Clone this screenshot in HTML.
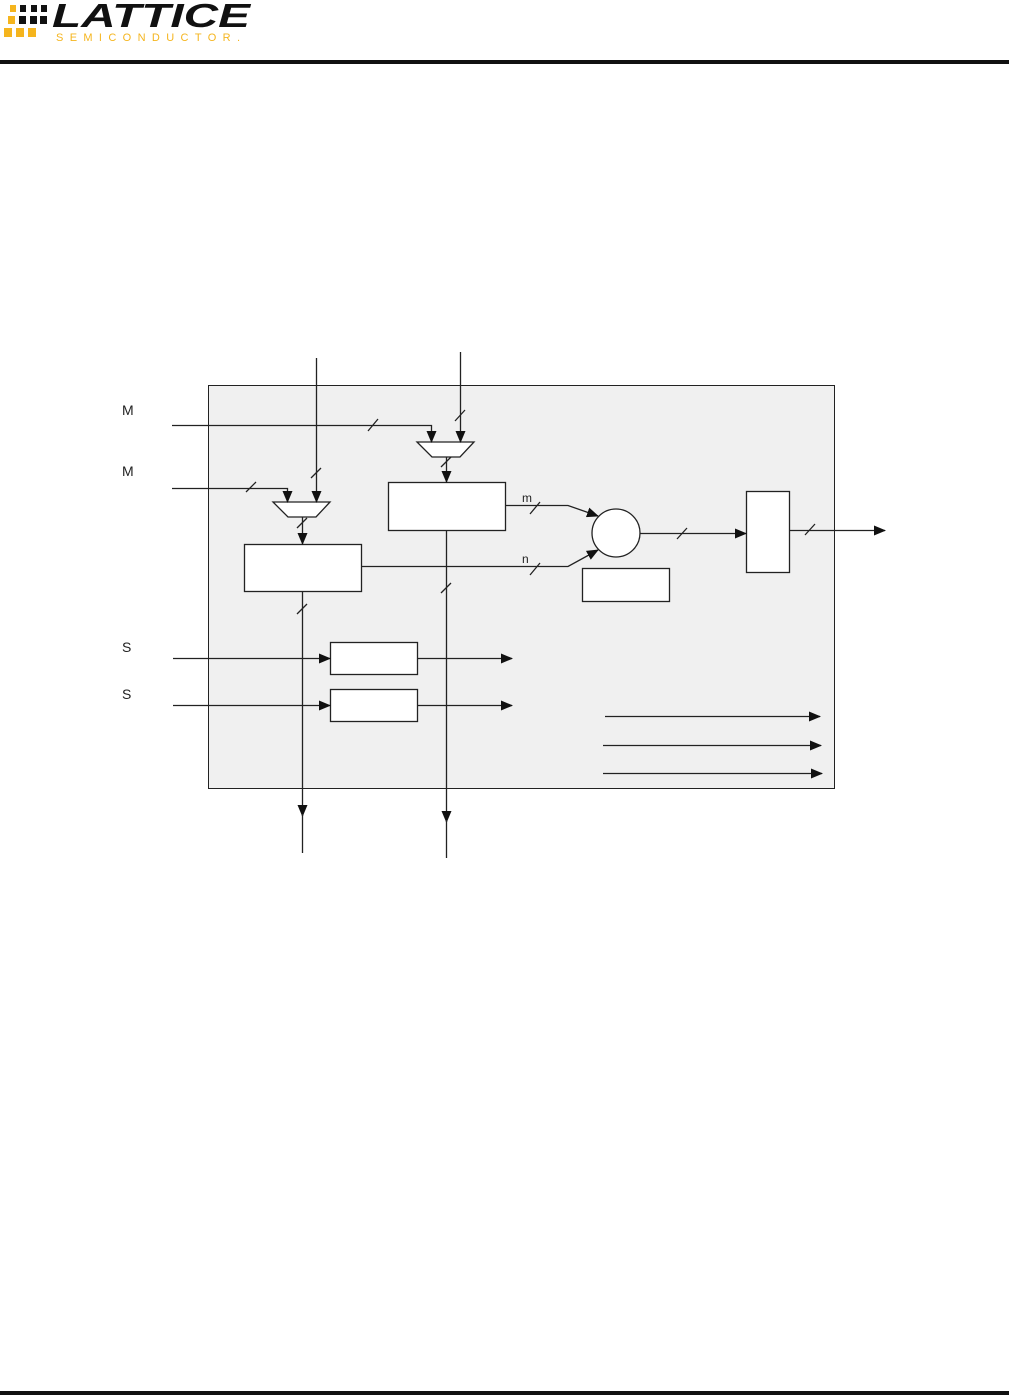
<!DOCTYPE html>
<html><head><style>body{margin:0;background:#fff;width:1009px;height:1396px;overflow:hidden}svg{display:block}</style></head><body>
<svg width="1009" height="1396" viewBox="0 0 1009 1396" xmlns="http://www.w3.org/2000/svg" font-family="Liberation Sans, sans-serif">
<defs><marker id="a" markerWidth="12" markerHeight="10" refX="11" refY="5" orient="auto" markerUnits="userSpaceOnUse"><path d="M0,0 L12,5 L0,10 z" fill="#111"/></marker></defs>
<!-- logo -->
<g fill="#f5b51e">
<rect x="4" y="28" width="8" height="9"/><rect x="16" y="28" width="8" height="9"/><rect x="28" y="28" width="8" height="9"/>
<rect x="8" y="16" width="7" height="8"/><rect x="10" y="5" width="6" height="7"/>
</g>
<g fill="#111">
<rect x="19" y="16" width="7" height="8"/><rect x="30" y="16" width="7" height="8"/><rect x="20" y="5" width="6" height="7"/><rect x="31" y="5" width="6" height="7"/><rect x="40" y="16" width="7" height="8"/><rect x="41" y="5" width="6" height="7"/>
</g>
<text x="52" y="27" font-size="33" font-weight="bold" font-style="italic" fill="#111" textLength="198" lengthAdjust="spacingAndGlyphs">LATTICE</text>
<text x="56" y="41" font-size="11" fill="#f5b51e" letter-spacing="6" textLength="190" lengthAdjust="spacing">SEMICONDUCTOR.</text>
<rect x="0" y="60" width="1009" height="4" fill="#111"/>
<rect x="0" y="1391" width="1009" height="4" fill="#111"/>
<!-- main box -->
<rect x="208.5" y="385.5" width="626" height="403" fill="#f0f0f0" stroke="#222"/>
<g stroke="#222" stroke-width="1.3" fill="none">
<polygon points="417,442 474,442 460,457 432,457" fill="#fff"/>
<polygon points="273,502 330,502 316,517 288,517" fill="#fff"/>
<rect x="388.5" y="482.5" width="117" height="48" fill="#fff"/>
<rect x="244.5" y="544.5" width="117" height="47" fill="#fff"/>
<circle cx="616" cy="533" r="24" fill="#fff"/>
<rect x="582.5" y="568.5" width="87" height="33" fill="#fff"/>
<rect x="746.5" y="491.5" width="43" height="81" fill="#fff"/>
<rect x="330.5" y="642.5" width="87" height="32" fill="#fff"/>
<rect x="330.5" y="689.5" width="87" height="32" fill="#fff"/>
<path d="M172,425.5 H431.5 V442" marker-end="url(#a)"/>
<path d="M460.5,352 V442" marker-end="url(#a)"/>
<path d="M316.5,358 V502" marker-end="url(#a)"/>
<path d="M172,488.5 H287.5 V502" marker-end="url(#a)"/>
<path d="M446.5,457 V482" marker-end="url(#a)"/>
<path d="M302.5,517 V544" marker-end="url(#a)"/>
<path d="M505,505.5 H568 L598,516" marker-end="url(#a)"/>
<path d="M361,566.5 H568 L598,550" marker-end="url(#a)"/>
<path d="M446.5,530 V822" marker-end="url(#a)"/><path d="M446.5,820 V858"/>
<path d="M302.5,591 V816" marker-end="url(#a)"/><path d="M302.5,814 V853"/>
<path d="M640,533.5 H746" marker-end="url(#a)"/>
<path d="M789,530.5 H885" marker-end="url(#a)"/>
<path d="M173,658.5 H330" marker-end="url(#a)"/><path d="M417,658.5 H512" marker-end="url(#a)"/>
<path d="M173,705.5 H330" marker-end="url(#a)"/><path d="M417,705.5 H512" marker-end="url(#a)"/>
<path d="M605,716.5 H820" marker-end="url(#a)"/>
<path d="M603,745.5 H821" marker-end="url(#a)"/>
<path d="M603,773.5 H822" marker-end="url(#a)"/>
<!-- slashes -->
<path d="M368,431 L378,419 M455,421 L465,410 M311,478 L321,468 M246,492 L256,482 M441,467 L451,457 M297,528 L307,518 M530,514 L540,502 M530,575 L540,563 M441,593 L451,583 M297,614 L307,604 M677,539 L687,528 M805,535 L815,524"/>
</g>
<g font-size="14" fill="#222">
<text x="122" y="415">M</text><text x="122" y="476">M</text>
<text x="122" y="652">S</text><text x="122" y="699">S</text>
<text x="522" y="502" font-size="12">m</text><text x="522" y="563" font-size="12">n</text>
</g>
</svg>
</body></html>
